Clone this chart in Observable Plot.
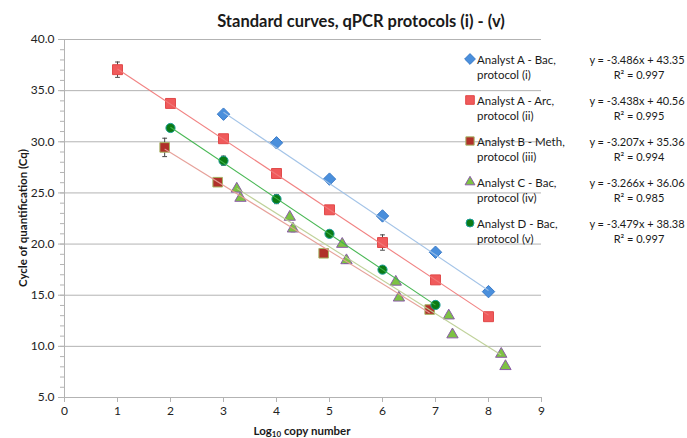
<!DOCTYPE html>
<html><head><meta charset="utf-8">
<script src="https://cdn.jsdelivr.net/npm/d3@7"></script>
<script src="https://cdn.jsdelivr.net/npm/@observablehq/plot@0.6"></script>
<style>
body{margin:0;background:#fff;font-family:Lato,"Open Sans",sans-serif;color:#1a1a1a;}
#chart{position:relative;width:687px;height:438px;overflow:hidden;}
#chart svg{position:absolute;left:0;top:0;}
.t{position:absolute;white-space:nowrap;}
</style></head><body><div id="chart"></div>
<script>
// ---- data ----
const legendLine1 = ["Analyst A - Bac,", "Analyst A - Arc,", "Analyst B - Meth,", "Analyst C - Bac,", "Analyst D - Bac,"];
const legendLine2 = ["protocol (i)", "protocol (ii)", "protocol (iii)", "protocol (iv)", "protocol (v)"];
const slopes = [-3.486, -3.438, -3.207, -3.266, -3.479];
const intercepts = [43.35, 40.56, 35.36, 36.06, 38.38];
const rSquared = [0.997, 0.995, 0.994, 0.985, 0.997];
const fitFrom = [3, 1, 1.89, 3.25, 2];
const fitTo = [8, 8, 6.89, 8.24, 7];

const aBacX = [3, 4, 5, 6, 7, 8];
const aBacY = [32.7, 29.9, 26.35, 22.75, 19.2, 15.35];
const aBacErr = [0, 0, 0, 0, 0, 0];

const aArcX = [1, 2, 3, 4, 5, 6, 7, 8];
const aArcY = [37.05, 33.75, 30.3, 26.9, 23.35, 20.15, 16.5, 12.9];
const aArcErr = [0.75, 0.35, 0, 0, 0, 0.75, 0, 0];

const bMethX = [1.89, 2.89, 4.89, 6.89];
const bMethY = [29.45, 26.05, 19.1, 13.6];
const bMethErr = [0.9, 0.4, 0.4, 0.4];

const cBacX = [3.25, 3.32, 4.25, 4.31, 5.24, 5.32, 6.25, 6.31, 7.25, 7.32, 8.24, 8.32];
const cBacY = [25.4, 24.5, 22.65, 21.5, 20.0, 18.4, 16.3, 14.75, 13.0, 11.15, 9.25, 8.05];
const cBacErr = [0, 0, 0, 0.3, 0, 0.3, 0, 0, 0, 0, 0, 0];

const dBacX = [2, 3, 4, 5, 6, 7];
const dBacY = [31.35, 28.15, 24.4, 21.0, 17.5, 14.05];
const dBacErr = [0, 0.45, 0.45, 0, 0, 0];

const xTicks = [0, 1, 2, 3, 4, 5, 6, 7, 8, 9];
const yTicks = [5, 10, 15, 20, 25, 30, 35, 40];
const yMinor = d3.range(5, 41, 1);

// ---- styles ----
const styles = [
  {symbol: "diamond2", r: 5.6, fill: "#4a8fdc", stroke: "#3a7bc8", line: "#9ec0e6"},
  {symbol: "square", r: 5.6, fill: "#f05a5b", stroke: "#e04848", line: "#f07a7a"},
  {symbol: "square", r: 5.4, fill: "#b0302a", stroke: "#a5b565", line: "#e59c95"},
  {symbol: "triangle", r: 4.2, fill: "#7dc243", stroke: "#8a5ba8", line: "#bccf94"},
  {symbol: "circle", r: 4.6, fill: "#0b7a14", stroke: "#1d9e98", line: "#3db34a"}
];

const xs = [aBacX, aArcX, bMethX, cBacX, dBacX];
const ys = [aBacY, aArcY, bMethY, cBacY, dBacY];
const errs = [aBacErr, aArcErr, bMethErr, cBacErr, dBacErr];

const pts = [];
xs.forEach((arr, s) => arr.forEach((x, i) => pts.push({s, x, y: ys[s][i], e: errs[s][i]})));
const fits = slopes.map((m, s) => ({s, x1: fitFrom[s], y1: m * fitFrom[s] + intercepts[s], x2: fitTo[s], y2: m * fitTo[s] + intercepts[s]}));
const errPts = pts.filter(d => d.e > 0);

const gray = "#b3b3b3";
const marks = [
  Plot.gridY(yTicks, {stroke: gray, strokeOpacity: 1, strokeWidth: 1}),
  Plot.ruleX([0], {stroke: gray}),
  Plot.ruleY([5], {stroke: gray}),
  Plot.axisY(yMinor, {tickSize: 4, tickFormat: () => "", stroke: gray}),
  Plot.axisY(yTicks, {tickSize: 6, tickPadding: 4, tickFormat: d3.format(".1f"), fontSize: 12, fill: "#222", stroke: gray, label: null}),
  Plot.axisX(xTicks, {tickSize: 5, tickPadding: 4, fontSize: 12, fill: "#222", stroke: gray, label: null, tickFormat: d3.format("d")}),
  Plot.ruleX(errPts, {x: "x", y1: d => d.y - d.e, y2: d => d.y + d.e, stroke: "#444", strokeWidth: 1}),
  Plot.link(errPts, {x1: d => d.x - 0.045, x2: d => d.x + 0.045, y1: d => d.y - d.e, y2: d => d.y - d.e, stroke: "#444"}),
  Plot.link(errPts, {x1: d => d.x - 0.045, x2: d => d.x + 0.045, y1: d => d.y + d.e, y2: d => d.y + d.e, stroke: "#444"})
];
styles.forEach((st, s) => {
  marks.push(Plot.dot(pts.filter(d => d.s === s), {x: "x", y: "y", symbol: () => st.symbol, r: st.r, fill: st.fill, stroke: st.stroke, strokeWidth: 1}));
});
styles.forEach((st, s) => {
  marks.push(Plot.link(fits.filter(d => d.s === s), {x1: "x1", y1: "y1", x2: "x2", y2: "y2", stroke: st.line, strokeWidth: 1.1, strokeOpacity: 0.95}));
});

const plot = Plot.plot({
  width: 687, height: 438,
  marginLeft: 64, marginRight: 146, marginTop: 39, marginBottom: 41,
  x: {domain: [0, 9]},
  y: {domain: [5, 40]},
  symbol: {type: "identity"},
  style: {fontFamily: "Lato, 'Open Sans', sans-serif", background: "white"},
  marks
});
const chart = document.getElementById("chart");
chart.appendChild(plot);

function addText(html, style) {
  const d = document.createElement("div");
  d.className = "t";
  d.innerHTML = html;
  Object.assign(d.style, style);
  chart.appendChild(d);
  return d;
}
addText("Standard curves, qPCR protocols (i) - (v)", {left: "361px", top: "21px", fontSize: "16.5px", fontWeight: "bold", transform: "translate(-50%,-50%)"});
addText("Cycle of quantification (Cq)", {left: "22px", top: "218px", fontSize: "11.5px", fontWeight: "bold", transform: "translate(-50%,-50%) rotate(-90deg)"});
addText("Log<sub style='font-size:8px;vertical-align:-2px'>10</sub> copy number", {left: "302px", top: "431px", fontSize: "11.5px", fontWeight: "bold", transform: "translate(-50%,-50%)"});

const legendY = [59, 100, 141, 182, 223];
styles.forEach((st, s) => {
  const y = legendY[s];
  const sym = d3.symbol().type({diamond2: d3.symbolDiamond2, square: d3.symbolSquare, triangle: d3.symbolTriangle, circle: d3.symbolCircle}[st.symbol]).size(st.r * st.r * Math.PI * 0.75)();
  addText(`<svg width="14" height="14" style="display:block"><path d="${sym}" transform="translate(7,7)" fill="${st.fill}" stroke="${st.stroke}"/></svg>`, {left: "463px", top: (y - 7) + "px"});
  addText(legendLine1[s], {left: "477px", top: y + "px", fontSize: "11.5px", transform: "translateY(-50%)"});
  addText(legendLine2[s], {left: "477px", top: (y + 15) + "px", fontSize: "11.5px", transform: "translateY(-50%)"});
  addText(`y = ${slopes[s].toFixed(3)}x + ${intercepts[s].toFixed(2)}`, {left: "637px", top: y + "px", fontSize: "11px", transform: "translate(-50%,-50%)"});
  addText(`R² = ${rSquared[s].toFixed(3)}`, {left: "639px", top: (y + 15) + "px", fontSize: "11px", transform: "translate(-50%,-50%)"});
});
</script></body></html>
